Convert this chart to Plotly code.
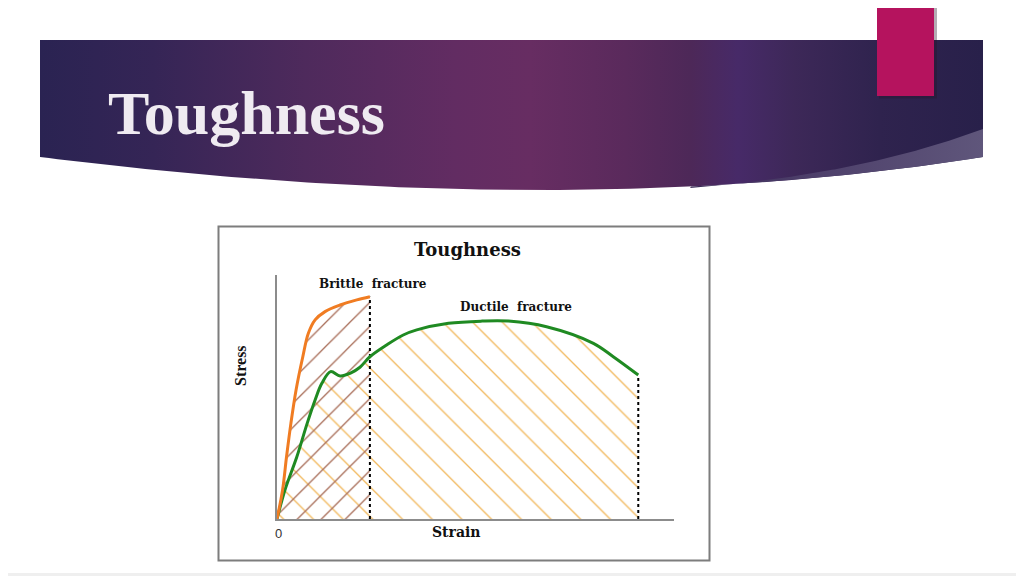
import numpy as np
import plotly.graph_objects as go

# ---- values (arbitrary units 0-100) ----
brittle_strain = [0, 1.4, 2.4, 3.5, 4.8, 6.5, 7.9, 9.6, 12.1, 15.9, 20.1, 23.4]
brittle_stress = [0, 11.9, 25.5, 39.2, 52.9, 66.5, 76.1, 81.6, 85.0, 87.7, 89.8, 91.1]

ductile_strain = [0, 2.0, 5.0, 7.6, 9.6, 11.3, 13.5, 15.9, 18.4, 20.9, 23.4, 27.6,
                  31.8, 35.2, 43.2, 51.6, 58.3, 67.9, 79.7, 84.7, 91.0]
ductile_stress = [0, 11.9, 25.5, 39.2, 48.8, 55.6, 60.4, 58.6, 59.7, 62.2, 66.5, 71.3,
                  75.4, 77.5, 80.2, 81.1, 81.1, 78.8, 72.0, 66.5, 59.0]

slide_title = "Toughness"
chart_title = "Toughness"
brittle_label = "Brittle\u00a0 fracture"
ductile_label = "Ductile\u00a0 fracture"
x_label = "Strain"
y_label = "Stress"
origin_label = "0"

# page is 1024x576 but the html body adds an 8px margin
PAGE_W, PAGE_H = 1024, 576
OFF = 8
W, H = PAGE_W - OFF, PAGE_H - OFF
ORANGE = "#f07c22"
GREEN = "#1f8a22"
HATCH_DUCTILE = "#f1b95e"
HATCH_BRITTLE = "#a66a55"
CLEAR = "rgba(255,255,255,0)"

fig = go.Figure()

# ---- slide decoration, drawn on a full-page axis pair in page pixels ----
def bezier(p0, c, p1, n=120):
    t = np.linspace(0, 1, n)
    x = (1 - t) ** 2 * p0[0] + 2 * t * (1 - t) * c[0] + t ** 2 * p1[0]
    y = (1 - t) ** 2 * p0[1] + 2 * t * (1 - t) * c[1] + t ** 2 * p1[1]
    return x, y

bx, by = bezier((983, 157), (568, 223), (40, 157))
banner_x = np.concatenate([[40, 983], bx, [40]])
banner_y = np.concatenate([[40, 40], by, [40]])
fig.add_trace(go.Scatter(
    x=banner_x, y=banner_y, mode="lines", fill="toself",
    line=dict(width=0), hoverinfo="skip", showlegend=False,
    fillgradient=dict(type="horizontal", colorscale=[
        [0.00, "#2a2352"], [0.12, "#352556"], [0.28, "#4e2a5c"],
        [0.44, "#622c62"], [0.52, "#672d62"], [0.62, "#5a2a5c"],
        [0.69, "#4d2858"], [0.74, "#472a68"], [0.80, "#3d2858"],
        [0.89, "#2f234e"], [1.00, "#28204a"]]),
))

sx, sy = bezier((983, 129), (860, 175), (690, 188))
keep = bx[::-1] >= 690
swoosh_x = np.concatenate([sx, bx[::-1][keep], [983]])
swoosh_y = np.concatenate([sy, by[::-1][keep], [129]])
fig.add_trace(go.Scatter(
    x=swoosh_x, y=swoosh_y, mode="lines", fill="toself",
    line=dict(width=0), hoverinfo="skip", showlegend=False,
    fillgradient=dict(type="horizontal", colorscale=[
        [0, "#3a2b57"], [0.4, "#4d3f6a"], [1, "#5f567b"]]),
))

# ---- the chart itself (x2 / y2) ----
# hatched areas first
fig.add_trace(go.Scatter(
    x=ductile_strain, y=ductile_stress, xaxis="x2", yaxis="y2",
    mode="lines", line=dict(width=0, shape="spline"), fill="tozeroy",
    fillcolor=CLEAR,
    fillpattern=dict(shape="\\", fgcolor=HATCH_DUCTILE, bgcolor=CLEAR, fgopacity=1,
                     size=21, solidity=0.065),
    hoverinfo="skip", showlegend=False,
))
fig.add_trace(go.Scatter(
    x=brittle_strain, y=brittle_stress, xaxis="x2", yaxis="y2",
    mode="lines", line=dict(width=0, shape="spline"), fill="tozeroy",
    fillcolor=CLEAR,
    fillpattern=dict(shape="/", fgcolor=HATCH_BRITTLE, bgcolor=CLEAR, fgopacity=1,
                     size=17, solidity=0.075),
    hoverinfo="skip", showlegend=False,
))
# fracture markers
fig.add_trace(go.Scatter(
    x=[brittle_strain[-1]] * 2, y=[0, brittle_stress[-1]], xaxis="x2", yaxis="y2",
    mode="lines", line=dict(color="black", width=2, dash="dot"),
    hoverinfo="skip", showlegend=False,
))
fig.add_trace(go.Scatter(
    x=[ductile_strain[-1]] * 2, y=[0, ductile_stress[-1]], xaxis="x2", yaxis="y2",
    mode="lines", line=dict(color="black", width=2, dash="dot"),
    hoverinfo="skip", showlegend=False,
))
# curves
fig.add_trace(go.Scatter(
    x=ductile_strain, y=ductile_stress, xaxis="x2", yaxis="y2",
    mode="lines", line=dict(color=GREEN, width=3, shape="spline"),
    name="Ductile", showlegend=False,
))
fig.add_trace(go.Scatter(
    x=brittle_strain, y=brittle_stress, xaxis="x2", yaxis="y2",
    mode="lines", line=dict(color=ORANGE, width=3, shape="spline"),
    name="Brittle", showlegend=False,
))

shapes = [
    # light band along the bottom of the slide
    dict(type="rect", xref="x", yref="y", x0=0, x1=PAGE_W, y0=573, y1=576,
         fillcolor="#efefef", line=dict(width=0), layer="below"),
    # picture frame around the chart
    dict(type="rect", xref="x", yref="y", x0=218.5, x1=709.5, y0=226.5, y1=560.5,
         fillcolor="white", line=dict(color="#7d7d7d", width=2), layer="below"),
    # pink tab with a soft shadow
    dict(type="rect", xref="x", yref="y", x0=879, x1=937, y0=0, y1=98.5,
         fillcolor="rgba(40,20,40,0.35)", line=dict(width=0), layer="above"),
    dict(type="rect", xref="x", yref="y", x0=877, x1=934, y0=0, y1=96,
         fillcolor="#b5135e", line=dict(width=0), layer="above"),
]

serif_b = "DejaVu Serif"
annotations = [
    dict(text="<b>" + slide_title + "</b>", x=106, y=113, xanchor="left", yanchor="middle",
         font=dict(family="Liberation Serif", size=62, color="#efebf1")),
    dict(text="<b>" + chart_title + "</b>", x=467, y=249.5,
         font=dict(family=serif_b, size=18, color="#111111")),
    dict(text="<b>" + brittle_label + "</b>", x=373, y=283.5,
         font=dict(family=serif_b, size=12, color="#111111")),
    dict(text="<b>" + ductile_label + "</b>", x=515.5, y=306.8,
         font=dict(family=serif_b, size=12, color="#111111")),
    dict(text="<b>" + x_label + "</b>", x=456.5, y=532,
         font=dict(family=serif_b, size=14, color="#111111")),
    dict(text=origin_label, x=278.5, y=533.5,
         font=dict(family="Liberation Sans", size=13, color="#333333")),
    dict(text="<b>" + y_label + "</b>", x=240, y=366, textangle=-90,
         font=dict(family="Liberation Serif", size=16, color="#111111")),
]
for a in annotations:
    a.update(xref="x", yref="y", showarrow=False)

fig.update_layout(
    width=W, height=H, autosize=False,
    margin=dict(l=0, r=0, t=0, b=0),
    paper_bgcolor="white", plot_bgcolor="rgba(0,0,0,0)",
    xaxis=dict(domain=[0, 1], range=[OFF, PAGE_W], visible=False, fixedrange=True),
    yaxis=dict(domain=[0, 1], range=[PAGE_H, OFF], visible=False, fixedrange=True),
    xaxis2=dict(domain=[(277 - OFF) / W, (674 - OFF) / W], range=[0, 100], anchor="y2",
                showline=True, linecolor="#8c8c8c", linewidth=2,
                showgrid=False, zeroline=False, showticklabels=False, ticks=""),
    yaxis2=dict(domain=[1 - (519 - OFF) / H, 1 - (275 - OFF) / H], range=[0, 100],
                anchor="x2",
                showline=True, linecolor="#8c8c8c", linewidth=2,
                showgrid=False, zeroline=False, showticklabels=False, ticks=""),
    shapes=shapes,
    annotations=annotations,
    showlegend=False,
)

fig.write_html("out.html")
